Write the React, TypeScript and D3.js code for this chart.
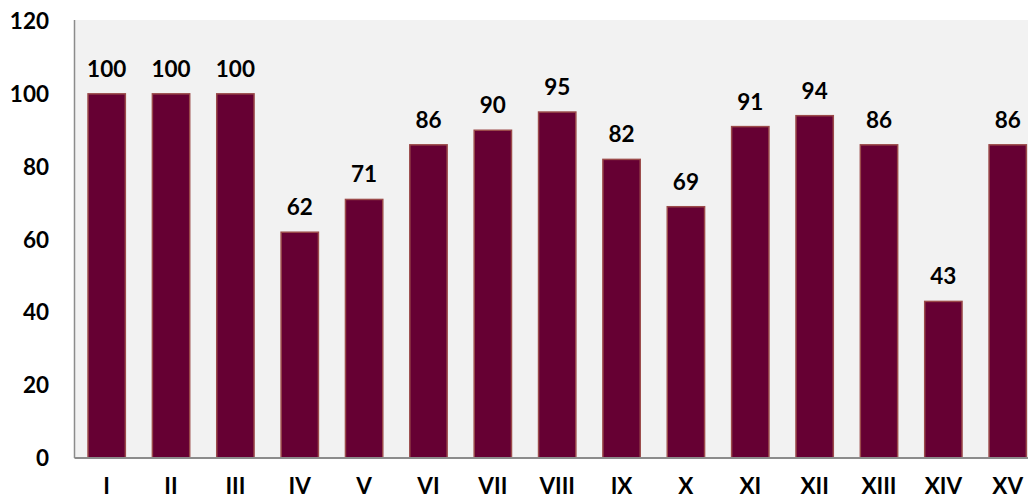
import React, { useEffect, useRef } from 'react';
import * as d3 from 'd3';

const categories = ['I', 'II', 'III', 'IV', 'V', 'VI', 'VII', 'VIII', 'IX', 'X', 'XI', 'XII', 'XIII', 'XIV', 'XV'];
const values = [100, 100, 100, 62, 71, 86, 90, 95, 82, 69, 91, 94, 86, 43, 86];
const yTicks = [0, 20, 40, 60, 80, 100, 120];

const W = 1028;
const H = 501;

function App() {
  const ref = useRef<SVGSVGElement>(null);

  useEffect(() => {
    const svg = d3.select(ref.current);
    svg.selectAll('*').remove();

    const left = 74.5, top = 20, bottom = 458;
    const band = 64.36;
    const right = left + band * categories.length;

    const x = d3.scaleBand<string>()
      .domain(categories)
      .range([left, right])
      .paddingInner(0.42)
      .paddingOuter(0.21);

    const y = d3.scaleLinear().domain([0, 120]).range([bottom, top + 1]);

    const font = 'Lato, "Open Sans", sans-serif';
    const fs = 22.5;

    // plot background
    svg.append('rect')
      .attr('x', left).attr('y', top)
      .attr('width', right - left).attr('height', bottom - top)
      .attr('fill', '#f2f2f2');

    // bars
    svg.selectAll('.bar')
      .data(values)
      .enter().append('rect')
      .attr('class', 'bar')
      .attr('x', (d, i) => x(categories[i])!)
      .attr('y', d => y(d))
      .attr('width', x.bandwidth())
      .attr('height', d => bottom - y(d))
      .attr('fill', '#660033')
      .attr('stroke', '#9b4a4a')
      .attr('stroke-width', 1.5);

    // value labels
    svg.selectAll('.val')
      .data(values)
      .enter().append('text')
      .attr('x', (d, i) => x(categories[i])! + x.bandwidth() / 2)
      .attr('y', d => y(d) - 17)
      .attr('text-anchor', 'middle')
      .attr('font-family', font)
      .attr('font-weight', 'bold')
      .attr('font-size', fs)
      .attr('fill', '#000')
      .text(d => d);

    // axes lines
    svg.append('line')
      .attr('x1', left).attr('x2', left)
      .attr('y1', top).attr('y2', bottom)
      .attr('stroke', '#8c8c8c').attr('stroke-width', 1.5);
    svg.append('line')
      .attr('x1', left).attr('x2', right)
      .attr('y1', bottom).attr('y2', bottom)
      .attr('stroke', '#8c8c8c').attr('stroke-width', 2);

    // y tick labels
    svg.selectAll('.ytick')
      .data(yTicks)
      .enter().append('text')
      .attr('x', 49)
      .attr('y', d => y(d))
      .attr('dy', '0.36em')
      .attr('text-anchor', 'end')
      .attr('font-family', font)
      .attr('font-weight', 'bold')
      .attr('font-size', fs)
      .attr('fill', '#000')
      .text(d => d);

    // x tick labels
    svg.selectAll('.xtick')
      .data(categories)
      .enter().append('text')
      .attr('x', d => x(d)! + x.bandwidth() / 2)
      .attr('y', 494)
      .attr('text-anchor', 'middle')
      .attr('font-family', font)
      .attr('font-weight', 'bold')
      .attr('font-size', fs)
      .attr('fill', '#000')
      .text(d => d);
  }, []);

  return (
    <svg ref={ref} width={W} height={H} style={{ position: 'absolute', left: 0, top: 0, background: '#fff' }} />
  );
}

export default App;
